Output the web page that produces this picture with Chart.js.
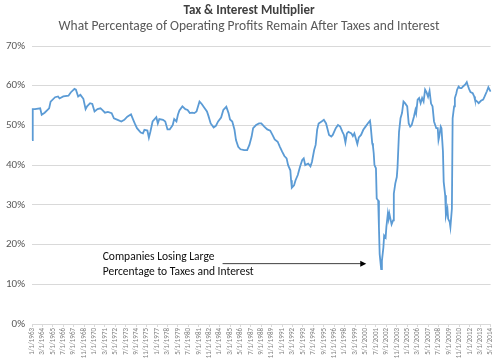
<!DOCTYPE html>
<html><head><meta charset="utf-8">
<script src="https://cdn.jsdelivr.net/npm/chart.js@4"></script>
<style>html,body{margin:0;padding:0;background:#fff}#wrap{width:500px;height:362px;position:relative}</style>
</head><body><div id="wrap"><canvas id="c"></canvas></div>
<script>
const TITLE = 'Tax & Interest Multiplier';
const SUBTITLE = 'What Percentage of Operating Profits Remain After Taxes and Interest';
const NOTE = ['Companies Losing Large', 'Percentage to Taxes and Interest'];
const FIRST = [1963, 1];
const LAST = [2014, 5];
const TICK_EVERY = 14;
const yTicks = [0, 10, 20, 30, 40, 50, 60, 70];

const dates = ['1963-01','1963-02','1963-05','1963-12','1964-02','1964-06','1964-12','1965-02','1965-08','1965-12',
'1966-02','1966-07','1967-02','1967-05','1967-10','1967-12','1968-03','1968-06','1968-10','1969-01',
'1969-03','1969-07','1969-10','1970-01','1970-05','1970-09','1970-12','1971-03','1971-07','1971-12',
'1972-03','1972-08','1973-01','1973-05','1973-09','1974-02','1974-05','1974-07','1974-10','1975-03',
'1975-06','1975-08','1975-12','1976-02','1976-04','1976-07','1976-12','1977-02','1977-04','1977-09',
'1977-12','1978-03','1978-06','1978-10','1978-12','1979-03','1979-05','1979-07','1979-11','1980-03',
'1980-06','1980-09','1980-12','1981-03','1981-06','1981-10','1982-01','1982-04','1982-08','1982-10',
'1983-01','1983-05','1983-08','1983-11','1984-03','1984-06','1984-10','1985-01','1985-03','1985-06',
'1985-09','1985-11','1986-02','1986-05','1986-10','1987-02','1987-05','1987-08','1987-10','1988-02',
'1988-06','1988-09','1989-01','1989-05','1989-09','1989-12','1990-03','1990-07','1990-10','1991-01',
'1991-04','1991-07','1991-09','1991-12','1992-01','1992-02','1992-05','1992-07','1992-10','1993-01',
'1993-04','1993-06','1993-08','1993-12','1994-03','1994-05','1994-08','1994-10','1994-12','1995-02',
'1995-06','1995-09','1995-12','1996-04','1996-07','1996-09','1997-01','1997-04','1997-07','1997-10',
'1997-12','1998-02','1998-04','1998-06','1998-10','1998-12','1999-02','1999-06','1999-08','1999-11',
'2000-02','2000-05','2000-08','2000-11','2000-12','2001-02','2001-03','2001-04','2001-05','2001-07',
'2001-08','2001-10','2001-11','2001-12','2002-02','2002-03','2002-05','2002-06','2002-08','2002-09',
'2002-11','2002-12','2003-01','2003-04','2003-06','2003-07','2003-09','2003-11','2003-12','2004-02',
'2004-04','2004-06','2004-08','2004-10','2005-01','2005-03','2005-05','2005-07','2005-10','2005-12',
'2006-01','2006-03','2006-05','2006-07','2006-09','2006-11','2007-01','2007-03','2007-05','2007-07',
'2007-09','2007-11','2008-01','2008-04','2008-06','2008-07','2008-08','2008-10','2008-11','2009-01',
'2009-02','2009-04','2009-05','2009-07','2009-08','2009-10','2009-11','2010-01','2010-02','2010-04',
'2010-05','2010-07','2010-08','2010-10','2010-12','2011-02','2011-04','2011-07','2011-09','2011-10',
'2011-12','2012-02','2012-05','2012-07','2012-08','2012-11','2013-01','2013-04','2013-07','2013-09',
'2013-12','2014-02','2014-05'];

const values = [46.3,54.1,54.1,54.3,52.7,53.2,54.3,56.0,57.1,57.3,
56.8,57.3,57.5,58.3,59.2,59.0,57.3,57.7,56.7,54.1,
54.8,55.6,55.4,53.5,54.1,54.3,53.8,53.2,53.4,53.1,
51.8,51.4,51.0,51.4,52.2,52.8,51.4,50.5,49.3,48.2,
48.0,48.9,48.7,46.9,48.4,51.0,52.1,50.5,51.6,51.4,
51.0,49.0,49.0,50.1,51.6,51.0,52.7,53.8,54.8,54.1,
53.9,53.1,53.2,53.1,53.5,56.0,55.4,54.6,53.5,52.4,
50.5,49.5,49.9,51.0,52.0,53.9,54.7,53.1,51.5,51.0,
48.9,46.3,44.6,44.0,43.8,43.8,45.1,47.2,49.3,50.1,
50.5,50.5,49.7,49.0,48.7,47.6,46.5,45.9,44.6,43.4,
42.3,41.7,40.0,38.7,36.2,34.3,34.9,36.2,37.5,39.6,
41.3,41.7,40.0,40.4,39.7,40.8,43.8,45.1,48.9,50.5,
51.0,51.4,50.5,47.6,47.2,47.6,49.3,50.1,49.7,48.4,
47.6,45.7,48.0,48.4,48.0,47.3,48.0,45.3,47.0,47.6,
48.9,49.7,50.5,51.2,49.7,45.5,44.8,43.0,40.0,39.2,
31.6,31.1,24.4,17.6,13.8,15.9,19.3,22.3,21.8,24.4,
27.8,26.5,27.8,25.1,26.1,32.8,35.4,37.0,39.5,48.4,
51.8,53.1,56.0,55.6,54.8,50.5,49.7,50.1,52.2,53.9,
53.1,56.5,56.9,55.6,56.9,56.0,59.0,58.3,57.2,58.7,
55.5,54.8,51.0,49.3,49.3,46.3,47.2,49.7,49.3,43.4,
35.8,32.4,27.3,29.0,26.5,25.7,24.4,29.0,51.8,54.8,
56.9,58.1,59.0,59.8,59.4,59.4,59.8,60.3,60.9,60.3,
59.2,58.4,58.1,57.3,56.5,56.0,55.6,56.2,56.5,57.3,
58.6,59.6,58.5];

// monthly categories
const categories = [];
for (let y = FIRST[0], m = FIRST[1]; y < LAST[0] || (y === LAST[0] && m <= LAST[1]);) {
  categories.push(y + '-' + String(m).padStart(2, '0'));
  m++; if (m > 12) { m = 1; y++; }
}
const fmt = s => { const [y, m] = s.split('-'); return (+m) + '/1/' + y; };

const FONT = "'Carlito', 'Lato', 'Open Sans', sans-serif";

const notePlugin = {
  id: 'note',
  afterDraw(chart) {
    const ctx = chart.ctx, x = chart.scales.x, y = chart.scales.y;
    ctx.save();
    // titles
    ctx.textAlign = 'center'; ctx.textBaseline = 'middle';
    ctx.fillStyle = '#404040';
    ctx.font = 'bold 13px ' + FONT;
    ctx.fillText(TITLE, 249, 11);
    ctx.fillStyle = '#595959';
    ctx.font = '13.5px ' + FONT;
    ctx.fillText(SUBTITLE, 249, 27);
    // annotation text
    ctx.textAlign = 'left';
    ctx.fillStyle = '#0d0d0d';
    ctx.font = '11.5px ' + FONT;
    const tx = x.getPixelForValue(categories.indexOf('1970-12'));
    ctx.fillText(NOTE[0], tx, y.getPixelForValue(16.9));
    ctx.fillText(NOTE[1], tx, y.getPixelForValue(13.1));
    // arrow
    const ax0 = x.getPixelForValue(categories.indexOf('1984-05'));
    const ax1 = x.getPixelForValue(categories.indexOf('2000-06'));
    const ay = y.getPixelForValue(15.2);
    ctx.strokeStyle = '#404040'; ctx.lineWidth = 1;
    ctx.beginPath(); ctx.moveTo(ax0, ay); ctx.lineTo(ax1 - 4, ay); ctx.stroke();
    ctx.fillStyle = '#000';
    ctx.beginPath(); ctx.moveTo(ax1, ay); ctx.lineTo(ax1 - 6, ay - 3); ctx.lineTo(ax1 - 6, ay + 3); ctx.closePath(); ctx.fill();
    ctx.restore();
  }
};

new Chart(document.getElementById('c'), {
  type: 'line',
  data: {
    labels: categories,
    datasets: [{
      data: dates.map((d, i) => ({ x: d, y: values[i] })),
      borderColor: '#5b9bd5',
      borderWidth: 1.8,
      pointRadius: 0,
      tension: 0,
      fill: false
    }]
  },
  options: {
    responsive: true,
    maintainAspectRatio: false,
    animation: false,
    layout: { padding: { top: 46, right: 8, left: 0, bottom: 0 } },
    plugins: { legend: { display: false }, tooltip: { enabled: false }, title: { display: false } },
    scales: {
      x: {
        type: 'category',
        offset: false,
        afterBuildTicks: s => { s.ticks = s.ticks.filter(t => t.value % TICK_EVERY === 0); },
        afterFit: s => { s.height = 38; },
        grid: { display: true, drawOnChartArea: false, drawTicks: true, tickLength: 3, color: '#d9d9d9' },
        border: { display: true, color: '#d9d9d9' },
        ticks: {
          autoSkip: false, minRotation: 90, maxRotation: 90, padding: 1,
          color: '#808080', font: { family: FONT, size: 7 },
          callback: function (v) { return fmt(this.getLabelForValue(v)); }
        }
      },
      y: {
        min: 0, max: 70,
        afterBuildTicks: s => { s.ticks = yTicks.map(v => ({ value: v })); },
        afterFit: s => { s.width = 32; },
        grid: { color: '#d9d9d9', drawTicks: false },
        border: { display: false },
        ticks: { padding: 7, color: '#595959', font: { family: FONT, size: 11 }, callback: v => v + '%' }
      }
    }
  },
  plugins: [notePlugin]
});
</script></body></html>
